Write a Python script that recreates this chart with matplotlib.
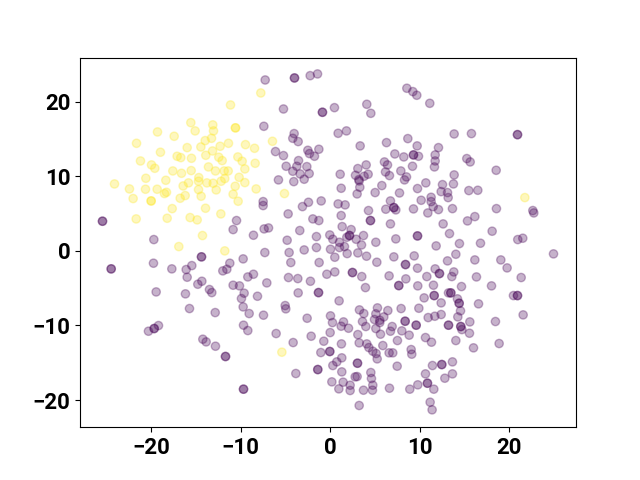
import matplotlib
matplotlib.use("Agg")
import matplotlib.pyplot as plt
import numpy as np

# Embedding coordinates, one (x, y) per point.
yellow_points = [
(-15.55,17.2),(-13.1,16.9),(-10.57,16.5),(-10.57,16.5),(-19.27,15.95),(-17.41,15.37),(-15.07,16.09),(-13.02,16.09),
(-13.95,14.79),(-13.24,15.1),(-21.61,14.43),(-15.96,13.85),(-14.43,13.94),(-12.28,14.03),(-11.35,14.43),(-9.45,14.25),
(-18.94,13.23),(-13.13,13.4),(-8.44,13.76),(-17.08,12.69),(-16.67,12.51),(-15.48,12.42),(-13.88,12.82),(-12.43,12.56),
(-12.05,12.11),(-10.3,12.6),(-9.82,12.02),(-21.17,12.06),(-19.94,11.53),(-19.57,11.08),(-8.37,11.75),(-13.58,11.26),
(-12.8,10.72),(-11.83,10.72),(-11.38,10.72),(-9.52,10.99),(-17.56,10.72),(-16.59,10.41),(-15.51,10.77),(-20.57,9.74),
(-18.34,9.47),(-14.66,9.83),(-14.69,9.34),(-15.81,9.12),(-10.16,9.87),(-11.76,9.7),(-12.17,9.34),(-13.06,9.07),
(-13.76,9.12),(-9.52,9.16),(-16.41,8.71),(-10.6,8.67),(-22.4,8.31),(-20.61,8.27),(-19.31,8.27),(-18.27,7.86),
(-18.49,7.69),(-14.69,8.22),(-12.72,8.18),(-8.26,8.31),(-10.83,7.6),(-21.99,7.02),(-19.98,6.7),(-19.98,6.7),
(-16.74,7.06),(-16.18,7.42),(-14.4,7.33),(-10.27,6.66),(-17.63,5.67),(-13.91,5.72),(-12.2,4.96),(-21.65,4.29),
(-18.19,4.38),(-15.63,4.47),(-14.84,4.16),(-11.12,19.57),(-24.07,8.98),(-14.25,2.06),(-16.89,0.58),(-11.76,0.0),
(-7.74,21.18),(-6.44,14.7),(-5.1,7.69),(-5.39,-13.58),(21.73,7.15),
]

purple_points = [
(-25.41,3.98),(-25.41,3.98),(-24.44,-2.41),(-24.44,-2.41),(-19.68,1.52),(-19.72,-1.65),(-17.67,-2.41),(-14.36,-0.8),(-14.36,-0.8),
(-10.45,4.07),(-10.83,2.86),(-15.44,-1.97),(-16.07,-2.5),(-15.96,-3.53),(-11.2,-1.65),(-9.71,-1.07),(-11.53,-2.46),(-11.98,-2.68),
(-9.19,-3.49),(-14.32,-4.07),(-14.77,-4.47),(-13.47,-5.18),(-13.21,-5.59),(-10.83,-4.6),(-10.12,-4.69),(-9.6,-5.67),(-9.9,-6.39),
(-19.42,-5.5),(-16.15,-5.76),(-15.7,-7.73),(-12.83,-8.27),(-9.71,-7.51),(-9.67,-9.96),(-20.28,-10.77),(-19.16,-10.01),(-19.64,-10.41),(-19.64,-10.41),
(-14.21,-11.84),(-13.84,-12.2),(-12.8,-12.78),(-11.68,-14.16),(-11.68,-14.16),(-9.67,-18.54),(-9.67,-18.54),
(-5.02,-7.33),(-4.95,-7.77),(-9.04,-8.4),(-7.44,-8.62),(-2.57,-9.03),(-9.19,-10.68),(-6.03,-11.08),(-4.13,-12.29),(-2.12,-11.44),
(0.04,-8.71),(0.26,-9.61),(1.49,-9.52),(1.23,-10.1),(2.05,-10.37),(0.0,-10.95),(-0.71,-12.11),(1.26,-12.47),(-1.04,-13.63),
(-0.04,-13.49),(-0.04,-13.49),(1.3,-14.34),(0.74,-14.88),(0.3,-15.37),(-1.38,-15.91),(-1.38,-15.91),(-3.83,-16.44),(1.3,-16.22),
(0.19,-17.56),(1.45,-17.6),(0.97,-18.5),(2.23,-18.01),(2.23,-18.72),(3.05,-15.06),(3.05,-15.06),(2.79,-16.89),(3.01,-16.85),
(4.54,-16.31),(4.61,-17.11),(4.76,-18.01),(4.72,-18.68),(3.72,-18.68),(3.24,-20.73),(6.62,-18.41),(8.89,-18.54),(7.48,-15.46),
(5.25,-14.48),(5.13,-13.76),(4.76,-13.45),(4.32,-12.96),(4.09,-12.47),(3.24,-12.33),(3.09,-11.22),(5.88,-12.69),(6.58,-13.67),
(6.99,-13.67),(7.51,-12.02),(9.04,-13.23),(9.11,-13.85),(5.62,-11.17),(6.73,-10.77),(6.92,-10.14),(8.0,-10.72),(8.82,-11.3),
(8.37,-9.43),(8.37,-9.43),(7.92,-7.73),(6.44,-8.0),(5.28,-7.64),(5.1,-8.44),(5.99,-8.85),(5.54,-9.61),(5.54,-9.3),(4.95,-9.2),
(5.1,-10.41),(3.98,-10.14),(3.61,-9.47),(3.76,-8.4),(3.27,-7.91),
(-7.48,6.61),(-7.48,6.08),(-4.69,4.96),(-3.09,5.94),(-2.42,6.52),(-1.0,6.7),(0.89,6.3),(1.67,6.17),(1.23,4.74),(-1.93,4.29),
(-1.26,4.07),(1.34,3.26),(-7.37,2.95),(-6.88,3.08),(-8.56,2.1),(-3.39,2.73),(-4.8,1.43),(-1.53,1.92),(-0.04,2.14),(0.3,1.56),
(2.34,2.86),(2.16,2.06),(2.16,2.06),(1.86,1.83),(1.04,1.16),(3.72,2.06),(2.9,1.56),(3.5,0.8),(1.6,0.58),(1.04,0.45),(0.04,0.22),
(1.9,-0.36),(3.09,-0.27),(4.06,-0.71),(0.52,-0.85),(-1.53,0.45),(-2.9,0.13),(-4.58,-0.22),(-7.29,-0.22),(-4.39,-1.56),(-1.23,-1.56),
(5.21,-1.52),(5.1,1.16),(7.33,1.61),(7.11,-0.8),(8.41,-1.83),(8.41,-1.83),(6.73,3.62),(4.5,4.07),(4.5,4.07),(4.28,5.41),(6.21,5.59),
(7.33,5.5),(7.11,5.81),(7.11,5.81),(6.73,6.7),(9.3,5.63),(5.02,7.82),(7.74,7.77),(5.77,8.76),(3.01,7.64),(3.31,8.53),(3.24,9.38),
(1.23,8.4),(8.3,9.52),(-8.56,-3.13),(-7.07,-4.29),(-8.11,-6.08),(-4.65,-3.57),(-3.61,-3.71),(-2.2,-4.07),(-0.37,-3.13),(0.52,-2.82),
(2.49,-2.9),(2.49,-2.9),(3.53,-3.44),(3.94,-4.92),(6.58,-3.35),(8.45,-3.75),(7.66,-4.65),(7.66,-4.65),(-1.3,-5.59),(-1.3,-5.59),
(-3.57,-5.63),(1.0,-6.7),
(-7.25,22.92),(-3.98,23.19),(-3.98,23.19),(-2.23,23.5),(-1.41,23.73),(8.56,21.81),(9.23,21.36),(-5.21,19.03),(-0.86,18.59),(-0.86,18.59),
(0.48,19.21),(4.09,19.66),(4.54,18.45),(-7.4,16.71),(0.89,15.77),(1.82,16.09),(-4.02,15.73),(-4.17,15.1),(-3.57,14.66),(3.35,14.08),
(6.29,14.52),(8.67,15.06),(-6.1,13.32),(-5.21,12.78),(-1.26,13.63),(-2.49,13.49),(-2.31,13.05),(-1.75,12.69),(-3.53,12.11),(-4.91,11.35),
(-3.72,11.35),(-2.6,11.3),(-4.17,10.68),(-3.35,10.32),(-2.34,10.37),(-2.9,9.61),(-4.06,9.29),(-5.77,9.52),(1.12,10.28),(3.09,11.04),
(2.83,10.14),(4.02,11.53),(4.24,10.28),(3.79,10.01),(3.2,9.56),(6.06,11.93),(6.4,11.53),(6.18,10.59),(6.62,10.1),(7.22,13.0),(8.22,12.6),
(9.3,12.87),(9.3,12.87),(9.19,11.35),(7.89,10.72),(8.52,9.92),(9.67,20.87),(11.12,19.79),(13.84,15.68),(15.77,15.73),(20.91,15.59),(20.91,15.59),
(9.71,14.08),(12.09,13.85),(11.72,12.87),(11.72,12.06),(11.64,11.26),(15.25,12.38),(15.63,11.93),(18.53,10.81),(9.86,12.69),(13.84,10.19),
(10.68,9.12),(12.54,8.89),(13.76,8.98),(9.75,8.36),(12.39,7.95),(13.1,7.82),(13.17,7.15),(15.48,8.09),(16.48,8.13),(11.27,7.19),(10.16,6.79),
(11.27,6.61),(11.5,5.94),(12.09,5.54),(10.9,5.09),(13.65,5.67),(18.56,5.67),(22.62,5.41),(22.73,5.09),(16.15,4.6),(15.33,4.02),(12.61,3.62),
(18.08,2.64),(13.32,2.32),(9.75,2.01),(9.75,2.01),(21.5,1.7),(20.94,1.52),(14.43,0.98),(16.78,1.03),(11.83,0.67),(9.38,-0.67),(14.03,-0.45),
(13.1,-1.34),(16.15,-1.21),(19.05,-1.21),(19.75,-2.28),(24.93,-0.4),(9.75,-2.32),(11.72,-2.41),(13.8,-2.82),(12.2,-3.04),(12.2,-3.04),(13.58,-3.44),
(10.79,-3.44),(16.33,-3.49),(21.32,-3.57),(9.78,-4.69),(11.53,-4.6),(14.66,-4.78),(18.01,-4.69),(13.21,-5.63),(13.47,-5.63),(13.47,-5.63),
(11.61,-5.99),(11.61,-5.99),(10.49,-6.3),(14.21,-6.43),(14.4,-7.02),(14.4,-7.02),(12.39,-6.97),(16.56,-7.1),(20.46,-5.99),(20.91,-5.99),(20.91,-5.99),
(9.9,-7.69),(10.94,-8.94),(11.68,-8.76),(12.39,-8.53),(14.25,-8.85),(14.55,-8.04),(15.59,-9.52),(18.45,-9.47),(21.54,-8.58),(9.6,-9.96),(9.6,-9.96),
(13.21,-9.96),(13.21,-9.96),(14.58,-10.14),(14.58,-10.14),(14.7,-10.55),(15.55,-11.04),(10.64,-11.62),(11.31,-12.24),(14.03,-12.02),(16.0,-13.0),
(18.86,-12.42),(13.65,-14.88),(12.46,-15.24),(12.46,-15.24),(11.42,-15.37),(13.65,-16.49),(12.8,-17.07),(10.64,-16.49),(10.86,-17.74),(10.86,-17.74),
(9.78,-17.96),(11.57,-18.54),(11.16,-20.29),(11.38,-21.31),
]

x_ticks = [-20, -10, 0, 10, 20]
y_ticks = [-20, -10, 0, 10, 20]

plt.rcParams['font.family'] = ['Roboto', 'DejaVu Sans']

points = np.array(purple_points + yellow_points)
labels = np.array([0] * len(purple_points) + [1] * len(yellow_points))

fig, ax = plt.subplots(figsize=(6.4, 4.8), dpi=100)
ax.scatter(points[:, 0], points[:, 1], c=labels, cmap='viridis', alpha=0.3)
ax.set_xlim(-27.92, 27.44)
ax.set_ylim(-23.64, 25.92)
ax.set_xticks(x_ticks)
ax.set_yticks(y_ticks)
ax.tick_params(labelsize=16)
for t in ax.get_xticklabels() + ax.get_yticklabels():
    t.set_fontweight('bold')
fig.savefig('out.png', dpi=100)
